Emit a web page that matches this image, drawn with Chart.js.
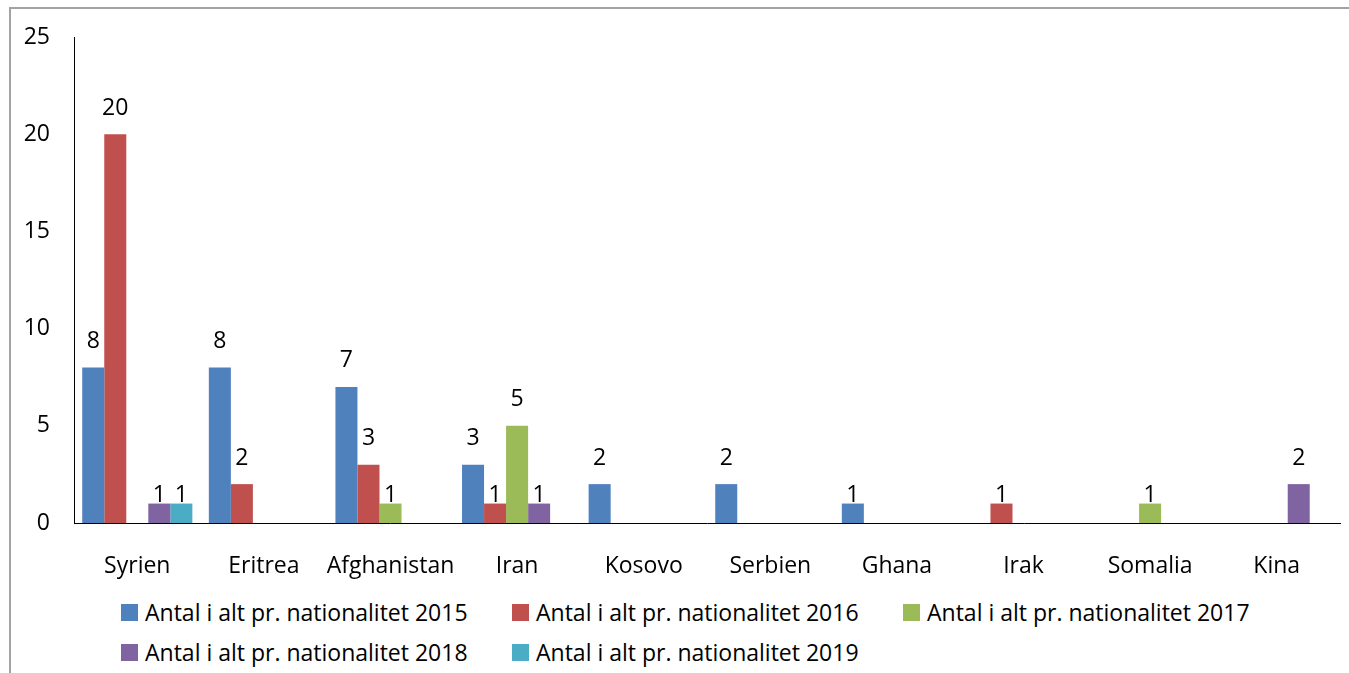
<!DOCTYPE html>
<html lang="da">
<head>
<meta charset="UTF-8">
<title>Antal i alt pr. nationalitet</title>
<script src="https://cdn.jsdelivr.net/npm/chart.js@4.4.1/dist/chart.umd.min.js"></script>
<style>
  html, body { margin: 0; padding: 0; background: #fff; }
  body { width: 1349px; height: 673px; overflow: hidden; position: relative; font-family: "Open Sans", "Noto Sans", sans-serif; }
  #frame { position: absolute; left: 9px; top: 7px; right: 0; bottom: 0; border-left: 2px solid #a3a3a3; border-top: 2px solid #a3a3a3; }
  #wrap { position: absolute; left: 10px; top: 9px; width: 1339px; height: 574px; }
  #legend { position: absolute; left: 121px; top: 600px; width: 1220px; }
  .row { height: 40px; display: flex; }
  .item { width: 391px; display: flex; align-items: center; height: 24px; font-size: 23px; color: #000; white-space: nowrap; }
  .box { width: 17px; height: 17px; margin-right: 7px; flex: none; }
</style>
</head>
<body>
<div id="frame"></div>
<div id="wrap"><canvas id="myChart"></canvas></div>
<div id="legend"></div>

<script>
// data
var countries = ['Syrien', 'Eritrea', 'Afghanistan', 'Iran', 'Kosovo', 'Serbien', 'Ghana', 'Irak', 'Somalia', 'Kina'];
var years = ['2015', '2016', '2017', '2018', '2019'];
var values2015 = [8, 8, 7, 3, 2, 2, 1, 0, 0, 0];
var values2016 = [20, 2, 3, 1, 0, 0, 0, 1, 0, 0];
var values2017 = [0, 0, 1, 5, 0, 0, 0, 0, 1, 0];
var values2018 = [1, 0, 0, 1, 0, 0, 0, 0, 0, 2];
var values2019 = [1, 0, 0, 0, 0, 0, 0, 0, 0, 0];
var yTicks = [0, 5, 10, 15, 20, 25];

var colors = ['#4F81BD', '#C0504D', '#9BBB59', '#8064A2', '#4BACC6'];
var allValues = [values2015, values2016, values2017, values2018, values2019];
var font = "'Open Sans', 'Noto Sans', sans-serif";

var datasets = years.map(function(y, i) {
    return {
        label: 'Antal i alt pr. nationalitet ' + y,
        data: allValues[i],
        backgroundColor: colors[i],
        borderWidth: 0,
        categoryPercentage: 0.87,
        barPercentage: 1.0
    };
});

// values above the bars, like the excel labels
var barLabels = {
    id: 'barLabels',
    afterDatasetsDraw: function(chart) {
        var ctx = chart.ctx;
        ctx.save();
        ctx.font = '23px ' + font;
        ctx.fillStyle = '#000';
        ctx.textAlign = 'center';
        ctx.textBaseline = 'middle';
        chart.data.datasets.forEach(function(ds, i) {
            var meta = chart.getDatasetMeta(i);
            meta.data.forEach(function(bar, j) {
                var v = ds.data[j];
                if (!v) return;
                var off = v < 1.5 ? 8 : 26;
                ctx.fillText(String(v), bar.x, bar.y - off);
            });
        });
        ctx.restore();
    }
};

function createChart() {
    var ctx = document.getElementById('myChart').getContext('2d');
    new Chart(ctx, {
        type: 'bar',
        data: { labels: countries, datasets: datasets },
        plugins: [barLabels],
        options: {
            responsive: true,
            maintainAspectRatio: false,
            animation: false,
            layout: { padding: { left: 0, right: 9, top: 28, bottom: 0 } },
            plugins: {
                legend: { display: false },
                tooltip: { enabled: false }
            },
            scales: {
                x: {
                    grid: { display: false },
                    border: { display: true, color: '#000', width: 1 },
                    ticks: { color: '#000', font: { family: font, size: 23 }, padding: 22, maxRotation: 0, autoSkip: false },
                    afterFit: function(s) { s.height = 60; }
                },
                y: {
                    min: 0,
                    max: 25,
                    grid: { display: false },
                    border: { display: true, color: '#000', width: 1 },
                    afterBuildTicks: function(s) { s.ticks = yTicks.map(function(v) { return { value: v }; }); },
                    ticks: { color: '#000', font: { family: font, size: 23 }, padding: 16 },
                    afterFit: function(s) { s.width = 64; s.paddingTop = 0; s.paddingBottom = 0; }
                }
            }
        }
    });
}

function buildLegend() {
    var el = document.getElementById('legend');
    var row;
    datasets.forEach(function(ds, i) {
        if (i % 3 === 0) {
            row = document.createElement('div');
            row.className = 'row';
            el.appendChild(row);
        }
        var item = document.createElement('div');
        item.className = 'item';
        var box = document.createElement('span');
        box.className = 'box';
        box.style.background = ds.backgroundColor;
        var txt = document.createElement('span');
        txt.textContent = ds.label;
        item.appendChild(box);
        item.appendChild(txt);
        row.appendChild(item);
    });
}

buildLegend();
createChart();
</script>
</body>
</html>
